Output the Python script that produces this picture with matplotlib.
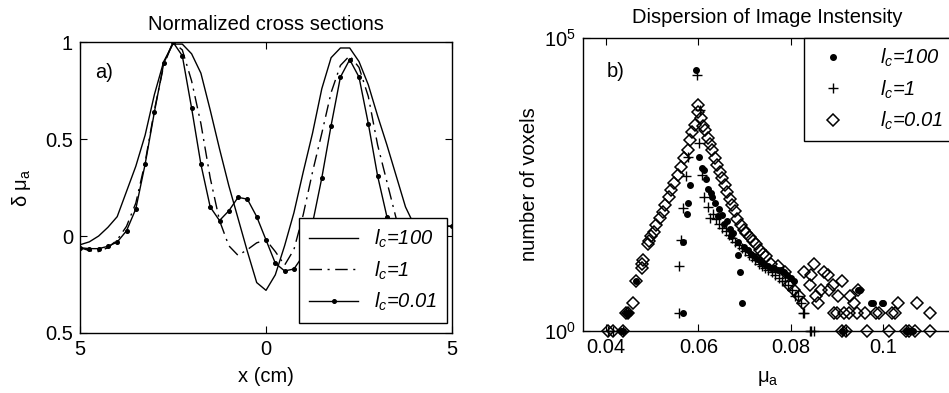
import matplotlib
matplotlib.use('Agg')
import matplotlib.pyplot as plt
import numpy as np

plt.rcParams['font.family'] = ['Liberation Sans', 'DejaVu Sans']
plt.rcParams['mathtext.fontset'] = 'custom'
plt.rcParams['mathtext.rm'] = 'Liberation Sans'
plt.rcParams['mathtext.it'] = 'Liberation Sans:italic'
plt.rcParams['mathtext.bf'] = 'Liberation Sans:bold'

FS = 14.5

# ---- a) normalised cross sections ----
x_cm = [-5.0, -4.75, -4.5, -4.25, -4.0, -3.75, -3.5, -3.25, -3.0, -2.75, -2.5,
        -2.25, -2.0, -1.75, -1.5, -1.25, -1.0, -0.75, -0.5, -0.25, 0.0,
        0.25, 0.5, 0.75, 1.0, 1.25, 1.5, 1.75, 2.0, 2.25, 2.5,
        2.75, 3.0, 3.25, 3.5, 3.75, 4.0, 4.25, 4.5, 4.75, 5.0]
lc100 = [-0.045, -0.03, 0.0, 0.045, 0.10, 0.23, 0.36, 0.52, 0.73, 0.90, 0.99,
         0.99, 0.94, 0.84, 0.65, 0.45, 0.26, 0.09, -0.08, -0.24, -0.28,
         -0.20, -0.05, 0.12, 0.33, 0.53, 0.76, 0.92, 0.97, 0.97, 0.90,
         0.78, 0.62, 0.47, 0.31, 0.15, 0.05, 0.05, 0.05, 0.05, 0.05]
lc1 = [-0.06, -0.075, -0.08, -0.06, -0.02, 0.05, 0.17, 0.38, 0.65, 0.88, 1.0,
       0.96, 0.80, 0.58, 0.30, 0.08, -0.05, -0.10, -0.07, -0.035, -0.02,
       -0.08, -0.15, -0.07, 0.11, 0.33, 0.53, 0.74, 0.88, 0.93, 0.87,
       0.72, 0.47, 0.28, 0.09, 0.03, 0.04, 0.05, 0.05, 0.05, 0.05]
lc001 = [-0.06, -0.065, -0.065, -0.053, -0.031, 0.027, 0.14, 0.37, 0.64, 0.89, 1.0,
         0.93, 0.66, 0.37, 0.15, 0.08, 0.13, 0.20, 0.19, 0.10, -0.02,
         -0.14, -0.18, -0.17, -0.10, 0.065, 0.30, 0.57, 0.82, 0.91, 0.82,
         0.58, 0.31, 0.10, 0.02, 0.04, 0.06, 0.07, 0.065, 0.055, 0.05]

# ---- b) histogram of mu_a (number of voxels per bin) ----
dot_x = [0.0433, 0.0437, 0.0444, 0.0447, 0.0450, 0.0466,
         0.0566, 0.0566, 0.0575, 0.0578, 0.0582, 0.0594,
         0.0602, 0.0609, 0.0617, 0.0622, 0.0629, 0.0637, 0.0644, 0.0651,
         0.0662, 0.0669, 0.0676, 0.0687, 0.0690, 0.0694,
         0.0613, 0.0627, 0.0642, 0.0656, 0.0671, 0.0685, 0.0700, 0.0707,
         0.0714, 0.0721, 0.0728, 0.0736, 0.0743, 0.0750, 0.0757, 0.0765,
         0.0772, 0.0779, 0.0786, 0.0793, 0.0800, 0.0808,
         0.0946, 0.0951, 0.0975, 0.0979, 0.0997, 0.1001,
         0.0912, 0.1049, 0.1053, 0.1058, 0.1065]
dot_y = [1, 1, 2, 2, 2, 7,
         2, 33, 100, 150, 310, 29000,
         930, 600, 390, 260, 195, 150, 123, 95,
         74, 56, 47, 20, 10, 3,
         560, 230, 90, 66, 42, 33, 27, 24,
         21, 19, 17, 15, 14, 13, 12, 12,
         11, 11, 10, 9, 8, 7,
         5, 5, 3, 3, 3, 3,
         1, 1, 1, 1, 1]

plus_x = [0.0404, 0.0415, 0.0437, 0.0444, 0.0447,
          0.0559, 0.0559, 0.0563, 0.0566, 0.0573, 0.0577, 0.0597, 0.0603,
          0.0602, 0.0609, 0.0613, 0.0622, 0.0626,
          0.0631, 0.0638, 0.0645, 0.0652, 0.0659, 0.0666, 0.0673, 0.0680,
          0.0688, 0.0695, 0.0702, 0.0709, 0.0716, 0.0723, 0.0731, 0.0738,
          0.0745, 0.0752, 0.0760, 0.0767, 0.0774, 0.0781, 0.0788, 0.0795,
          0.0802, 0.0809, 0.0816, 0.0823, 0.0826, 0.0830,
          0.0841, 0.0845, 0.0850, 0.0912, 0.0919]
plus_y = [1, 1, 1, 2, 2,
          2, 13, 36, 124, 440, 930, 23000, 5900,
          1600, 460, 195, 132, 84,
          100, 80, 68, 58, 50, 44, 38, 33,
          29, 26, 23, 20, 18, 16, 14, 13,
          12, 11, 10, 9, 8, 7, 7, 6,
          5, 4, 4, 3, 2, 2,
          1, 1, 1, 1, 1]

dia_x = [0.0404, 0.0415, 0.0437, 0.0444, 0.0447, 0.0459, 0.0466, 0.0477,
         0.0479, 0.0481, 0.0491, 0.0494, 0.0498, 0.0505, 0.0509, 0.0516,
         0.0523, 0.0528, 0.0536, 0.0541, 0.0548, 0.0555, 0.0563, 0.0570,
         0.0577, 0.0581, 0.0586, 0.0592, 0.0599, 0.0599, 0.0605, 0.0610,
         0.0615, 0.0620, 0.0626, 0.0630, 0.0636, 0.0641, 0.0647, 0.0652,
         0.0658, 0.0663, 0.0668, 0.0674, 0.0679, 0.0684, 0.0693, 0.0700,
         0.0704, 0.0711, 0.0718, 0.0725, 0.0733, 0.0740, 0.0747, 0.0758,
         0.0772, 0.0787, 0.0797, 0.0808, 0.0818, 0.0826,
         0.0830, 0.0844, 0.0841, 0.0851, 0.0855, 0.0860, 0.0866, 0.0873,
         0.0880, 0.0884, 0.0891, 0.0894, 0.0901, 0.0902, 0.0911, 0.0916,
         0.0926, 0.0929, 0.0937, 0.0944, 0.0947, 0.0962, 0.0984, 0.0991,
         0.1020, 0.1027, 0.1032, 0.1074, 0.1103,
         0.0912, 0.0919, 0.0966, 0.1013, 0.1049, 0.1056, 0.1070, 0.1103]
dia_y = [1, 1, 1, 2, 2, 3, 7, 14,
         12, 16, 31, 35, 41, 49, 65, 84,
         109, 141, 196, 255, 331, 458, 632, 884,
         1230, 1820, 2510, 3300, 7200, 5500, 4300, 3200,
         2700, 1950, 1580, 1230, 890, 680, 525, 410,
         310, 240, 180, 141, 110, 83, 65, 52,
         47, 40, 35, 30, 24, 21, 19, 14,
         13, 10, 6, 5, 4, 3,
         10, 9, 6, 14, 4, 3, 5, 10,
         9, 5, 6, 2, 2, 4, 7, 2,
         2, 4, 3, 2, 5, 2, 2, 2,
         2, 2, 3, 3, 2,
         1, 1, 1, 1, 1, 1, 1, 1]

fig = plt.figure(figsize=(9.49, 3.93), dpi=100)

# left panel
ax1 = fig.add_axes([0.0843, 0.1527, 0.392, 0.740])
ax1.plot(x_cm, lc100, '-', color='black', lw=1.0, label='$l_c$=100')
ax1.plot(x_cm, lc1, color='black', lw=1.0, linestyle=(0, (9, 4, 1.5, 4)), label='$l_c$=1')
ax1.plot(x_cm, lc001, '-', color='black', lw=1.0, marker='o', ms=2.6, label='$l_c$=0.01')
ax1.set_xlim(-5, 5)
ax1.set_ylim(-0.5, 1)
ax1.set_xticks([-5, 0, 5])
ax1.set_xticklabels(['5', '0', '5'])
ax1.set_yticks([-0.5, 0, 0.5, 1])
ax1.set_yticklabels(['0.5', '0', '0.5', '1'])
ax1.set_title('Normalized cross sections', fontsize=FS, pad=9)
ax1.set_xlabel('x (cm)', fontsize=FS, labelpad=6)
ax1.set_ylabel(r'δ $\mathregular{μ_a}$', fontsize=FS, labelpad=9)
ax1.text(0.04, 0.897, 'a)', transform=ax1.transAxes, fontsize=FS, va='center')
leg1 = ax1.legend(loc='lower right', bbox_to_anchor=(0.987, 0.034), borderaxespad=0,
                  fancybox=False, edgecolor='black', framealpha=1,
                  prop={'size': FS, 'style': 'italic'}, handlelength=2.4,
                  labelspacing=0.45, borderpad=0.5)
leg1.get_frame().set_linewidth(1.0)

# right panel
ax2 = fig.add_axes([0.6143, 0.1578, 0.389, 0.7455])
ax2.plot(dot_x, dot_y, linestyle='none', marker='o', ms=4, color='black',
         label='$l_c$=100', clip_on=False)
ax2.plot(plus_x, plus_y, linestyle='none', marker='+', ms=7.5, mew=1.0, color='black',
         label='$l_c$=1', clip_on=False)
ax2.plot(dia_x, dia_y, linestyle='none', marker='D', ms=6.3, mew=1.1, mfc='none',
         mec='black', label='$l_c$=0.01', clip_on=False)
ax2.set_yscale('log')
ax2.set_xlim(0.035, 0.115)
ax2.set_ylim(1, 1e5)
ax2.set_xticks([0.04, 0.06, 0.08, 0.1])
ax2.set_xticklabels(['0.04', '0.06', '0.08', '0.1'])
ax2.set_yticks([1, 1e5])
ax2.yaxis.set_minor_locator(matplotlib.ticker.NullLocator())
ax2.set_title('Dispersion of Image Instensity', fontsize=FS, pad=11)
ax2.set_xlabel(r'$\mathregular{μ_a}$', fontsize=FS, labelpad=9)
ax2.set_ylabel('number of voxels', fontsize=FS, labelpad=4)
ax2.text(0.065, 0.884, 'b)', transform=ax2.transAxes, fontsize=FS, va='center')
leg2 = ax2.legend(loc='upper right', bbox_to_anchor=(1.0, 1.0), borderaxespad=0,
                  fancybox=False, edgecolor='black', framealpha=1,
                  prop={'size': FS, 'style': 'italic'}, handlelength=2.0,
                  labelspacing=0.45, borderpad=0.45, handletextpad=1.3)
leg2.get_frame().set_linewidth(1.0)

for ax in (ax1, ax2):
    ax.tick_params(direction='in', length=5, width=0.8, labelsize=FS,
                   top=True, right=True, pad=5)
    for s in ax.spines.values():
        s.set_linewidth(1.0)

fig.savefig('out.png', dpi=100)
